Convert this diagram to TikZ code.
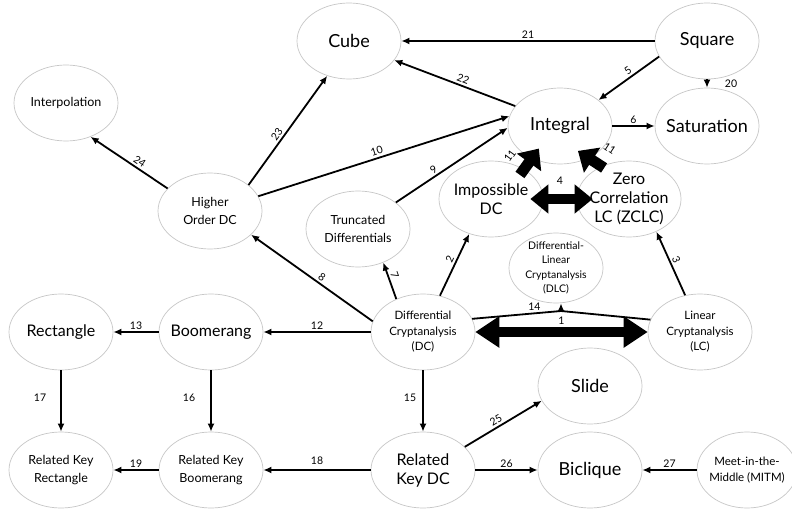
\documentclass[tikz,border=0pt]{standalone}
\usepackage{fontspec}
\setmainfont{Lato}
\usetikzlibrary{shapes.geometric,arrows.meta}
\begin{document}
\begin{tikzpicture}[x=1pt,y=-1pt,
  ell/.style={ellipse, draw=black!22, line width=0.7pt, minimum width=104pt, minimum height=76pt, inner sep=0pt},
  tbig/.style={font=\fontsize{18}{21}\selectfont, align=center},
  tmid/.style={font=\fontsize{16}{19}\selectfont, align=center},
  tsma/.style={font=\fontsize{12.5}{18}\selectfont, align=center},
  tsmb/.style={font=\fontsize{11.5}{15.5}\selectfont, align=center},
  tdlc/.style={font=\fontsize{10.5}{14.5}\selectfont, align=center},
  lab/.style={font=\fontsize{10.5}{12}\selectfont, inner sep=2pt},
  arr/.style={line width=1.8pt, -{Latex[length=8pt,width=7pt]}},
  plain/.style={line width=1.8pt},
  fatone/.style={line width=10pt, {Triangle[length=24pt,width=30pt]}-{Triangle[length=24pt,width=30pt]}},
  fatfour/.style={line width=10pt, {Triangle[length=18pt,width=28pt]}-{Triangle[length=18pt,width=28pt]}},
  fateleven/.style={line width=11pt, -{Triangle[length=17pt,width=29pt]}},
]
\useasboundingbox (0,0) rectangle (792,513);
\fill[white] (0,0) rectangle (792,513);

% nodes
\node[ell, label={[tbig]center:Cube}] (cube) at (349,41) {};
\node[ell, label={[tbig]center:Square}] (square) at (707,41) {};
\node[ell, label={[tbig]center:Integral}] (integral) at (560,126) {};
\node[ell, label={[tbig]center:Saturation}] (saturation) at (707,126) {};
\node[ell, label={[tsma]center:Interpolation}] (interp) at (66,103) {};
\node[ell, label={[tsma]center:Higher\\Order DC}] (hodc) at (210,211) {};
\node[ell, label={[tsma]center:Truncated\\Differentials}] (trunc) at (358,229) {};
\node[ell, label={[tmid]center:Impossible\\DC}] (imp) at (491,199) {};
\node[ell, label={[tmid]center:Zero\\Correlation\\LC (ZCLC)}] (zclc) at (629,199) {};
\node[ell, minimum width=94pt, minimum height=70pt, label={[tdlc]center:Differential-\\Linear\\Cryptanalysis\\(DLC)}] (dlc) at (556,268) {};
\node[ell, label={[tsmb]center:Differential\\Cryptanalysis\\(DC)}] (dc) at (423,332) {};
\node[ell, label={[tsmb]center:Linear\\Cryptanalysis\\(LC)}] (lc) at (700,332) {};
\node[ell, label={[tmid]center:Boomerang}] (boom) at (211,332) {};
\node[ell, label={[tmid]center:Rectangle}] (rect) at (61,332) {};
\node[ell, label={[tbig]center:Slide}] (slide) at (590,386) {};
\node[ell, label={[tmid]center:Related\\Key DC}] (rkdc) at (423,470) {};
\node[ell, label={[tbig]center:Biclique}] (bic) at (590,470) {};
\node[ell, minimum width=100pt, label={[tsmb]center:Meet-in-the-\\Middle (MITM)}] (mitm) at (747,470) {};
\node[ell, label={[tsma]center:Related Key\\Boomerang}] (rkb) at (211,470) {};
\node[ell, label={[tsma]center:Related Key\\Rectangle}] (rkr) at (61,470) {};

% connectors
\draw[arr] (square.180) -- node[lab,above]{21} (cube.0);
\draw[arr] (integral.156) -- node[lab,above,sloped,pos=0.45]{22} (cube.-23);
\draw[arr] (square.198) -- node[lab,above,sloped,pos=0.45]{5} (integral.34);
\draw[arr] (square.270) -- node[lab,right=15pt]{20} (saturation.90);
\draw[arr] (integral.0) -- node[lab,above]{6} (saturation.180);
\draw[arr] (hodc.34) -- node[lab,above,sloped,pos=0.43]{23} (cube.238);
\draw[arr] (hodc.152) -- node[lab,above,sloped,pos=0.41]{24} (interp.-54);
\draw[arr] (hodc.17) -- node[lab,above,sloped,pos=0.48]{10} (integral.169);
\draw[arr] (trunc.35) -- node[lab,above,sloped,pos=0.37]{9} (integral.182);
\draw[arr] (dc.168) -- node[lab,above,sloped,pos=0.45]{8} (hodc.-30);
\draw[arr] (dc.129) -- node[lab,above,sloped,pos=0.6]{7} (trunc.-53);
\draw[arr] (dc.180) -- node[lab,above]{12} (boom.0);
\draw[arr] (boom.180) -- node[lab,above]{13} (rect.0);
\draw[arr] (dc.65) -- node[lab,above,sloped,pos=0.54]{2} (imp.238);
\coordinate (j) at (561,311);
\draw[plain] (dc.15) -- node[lab,above,pos=0.7]{14} (j) -- (lc.166);
\draw[arr] (j) -- (j |- dlc.south);
\draw[fatone] (dc.0) -- node[lab,above=1pt]{1} (lc.180);
\draw[arr] (lc.112) -- node[lab,above,sloped,pos=0.52]{3} (zclc.-50);
\draw[fatfour, shorten <=-13pt, shorten >=-16pt] (imp.0) -- node[lab,above=7pt]{4} (zclc.180);
\draw[fateleven, shorten <=-7pt, shorten >=-12pt] (imp.42) -- node[lab,above=8pt,sloped,pos=0.2]{11} (integral.229);
\draw[fateleven, shorten <=-3pt, shorten >=-13pt] (zclc.130) -- node[lab,above=8pt,sloped,pos=0.2]{11} (integral.-48);
\draw[arr] (dc.270) -- node[lab,left=4pt,pos=0.44]{15} (rkdc.90);
\draw[arr] (boom.270) -- node[lab,left=13pt,pos=0.44]{16} (rkb.90);
\draw[arr] (rect.270) -- node[lab,left=12pt,pos=0.44]{17} (rkr.90);
\draw[arr] (rkdc.180) -- node[lab,above=3pt]{18} (rkb.0);
\draw[arr] (rkb.180) -- node[lab,above]{19} (rkr.0);
\draw[arr] (rkdc.29) -- node[lab,above,sloped,pos=0.45]{25} (slide.197);
\draw[arr] (rkdc.0) -- node[lab,above]{26} (bic.180);
\draw[arr] (mitm.180) -- node[lab,above]{27} (bic.0);
\end{tikzpicture}
\end{document}
